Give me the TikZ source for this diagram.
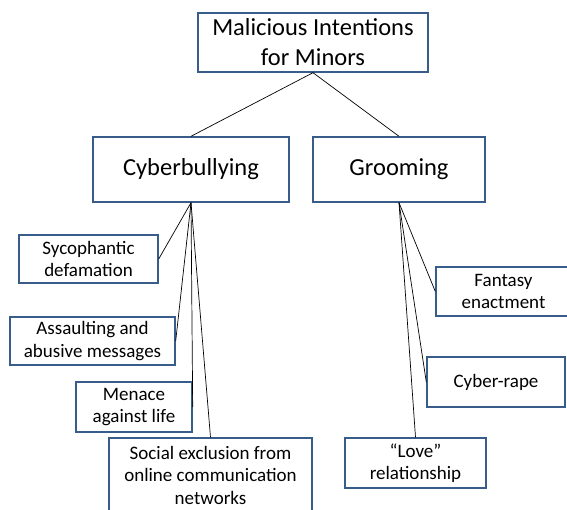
\documentclass[tikz,border=0pt]{standalone}
\usepackage{fontspec}
\setmainfont{Carlito}
\definecolor{boxline}{RGB}{56,93,138}
\tikzset{
  box/.style={draw=boxline,line width=1.4pt,rectangle,align=center,inner sep=1pt},
  bigbox/.style={box,font=\fontsize{24.5}{30}\selectfont},
  smallbox/.style={box,font=\fontsize{19}{22.5}\selectfont},
}
\begin{document}
\begin{tikzpicture}[x=1pt,y=-1pt]
\useasboundingbox (0,0) rectangle (567,509);
% root
\node[bigbox,minimum width=230pt,minimum height=59pt] (top) at (313,42.5) {Malicious Intentions\\for Minors};
% two kinds
\node[bigbox,minimum width=196pt,minimum height=65pt] (cyb) at (191,169.5) {Cyberbullying};
\node[bigbox,minimum width=172pt,minimum height=65pt] (groom) at (399,169.5) {Grooming};

% cyberbullying leaves
\node[smallbox,minimum width=139pt,minimum height=48pt] (syc) at (88.5,259) {Sycophantic\\defamation};
\node[smallbox,minimum width=165pt,minimum height=48pt] (abuse) at (92.5,341) {Assaulting and\\abusive messages};
\node[smallbox,minimum width=116pt,minimum height=50pt] (menace) at (134,407) {Menace\\against life};
\node[smallbox,minimum width=203pt,minimum height=74pt] (excl) at (210.5,475) {Social exclusion from\\online communication\\networks};

% grooming leaves
\node[smallbox,minimum width=135pt,minimum height=49pt] (fant) at (503.5,291.5) {Fantasy\\enactment};
\node[smallbox,minimum width=138pt,minimum height=50pt] (rape) at (496,382) {Cyber-rape};
\node[smallbox,minimum width=141pt,minimum height=50pt] (love) at (415.5,463) {“Love”\\relationship};

\path[draw,line width=0.7pt]
% root to kinds
(top.south) edge (cyb.north)
(top.south) edge (groom.north)
% cyberbullying
(cyb.south) edge (syc.east)
(cyb.south) edge (abuse.east)
(cyb.south) edge (menace.east)
(cyb.south) edge (excl.north)
% grooming
(groom.south) edge (fant.west)
(groom.south) edge (rape.west)
(groom.south) edge (love.north);
\end{tikzpicture}
\end{document}
